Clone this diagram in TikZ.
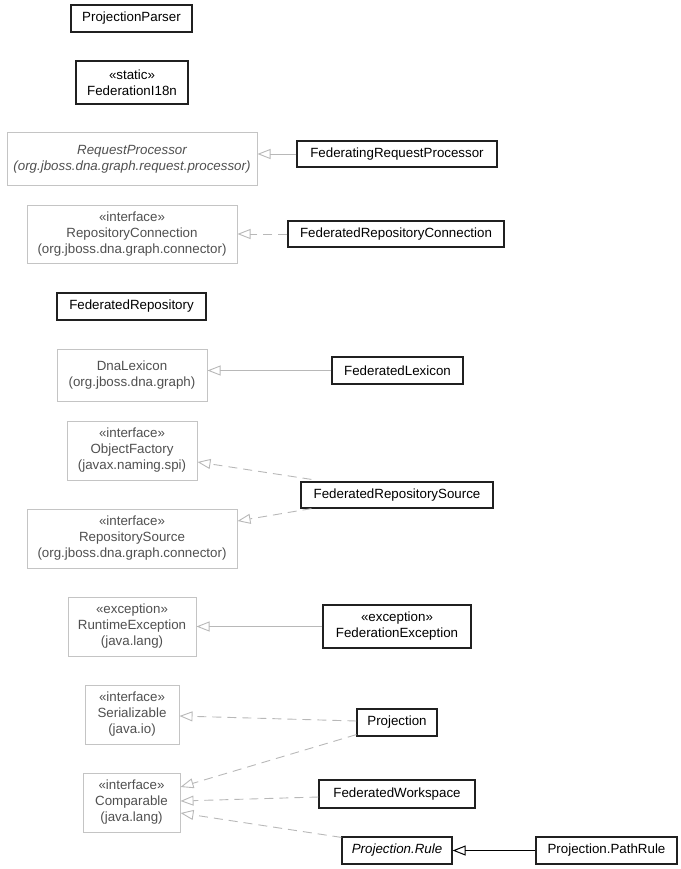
\documentclass[tikz,border=0pt]{standalone}
\usepackage{fontspec}
\setmainfont{Liberation Sans}
\usetikzlibrary{arrows.meta,calc}
\definecolor{gbord}{HTML}{C4C4C4}
\definecolor{gtext}{HTML}{505050}
\definecolor{gline}{HTML}{B8B8B8}
\definecolor{bbord}{HTML}{202020}
\tikzset{
  cls/.style={draw=bbord, line width=1.2pt, fill=white, inner sep=0pt, align=center, text=black,
    font=\fontsize{13.33}{16}\selectfont},
  ext/.style={draw=gbord, line width=1pt, fill=white, inner sep=0pt, align=center, text=gtext,
    font=\fontsize{13.33}{16}\selectfont},
  gen/.style={draw=gline, line width=0.9pt, -{Triangle[open, length=13pt, width=10pt]}},
  impl/.style={gen, dash pattern=on 9pt off 6pt},
  genb/.style={draw=black, line width=1pt, -{Triangle[open, length=13pt, width=10pt]}},
}
\begin{document}
\begin{tikzpicture}[x=1pt,y=-1pt]
\useasboundingbox (0,0) rectangle (680,869);
\node[cls, minimum width=121pt, minimum height=27pt] (pp) at (131.5,18.5) {ProjectionParser};
\node[cls, minimum width=112pt, minimum height=43pt] (i18n) at (132,82.5) {«static»\\FederationI18n};
\node[ext, minimum width=250pt, minimum height=52pt] (rp) at (132,159) {\itshape RequestProcessor\\\itshape (org.jboss.dna.graph.request.processor)};
\node[cls, minimum width=200pt, minimum height=26pt] (frp) at (397,154) {FederatingRequestProcessor};
\node[ext, minimum width=210pt, minimum height=58pt] (rc) at (132,234) {«interface»\\RepositoryConnection\\(org.jboss.dna.graph.connector)};
\node[cls, minimum width=216pt, minimum height=26pt] (frc) at (396,234) {FederatedRepositoryConnection};
\node[cls, minimum width=149pt, minimum height=27pt] (fr) at (131.5,306.5) {FederatedRepository};
\node[ext, minimum width=150pt, minimum height=52pt] (dl) at (132,375) {DnaLexicon\\(org.jboss.dna.graph)};
\node[cls, minimum width=131pt, minimum height=27pt] (fl) at (397.5,370.5) {FederatedLexicon};
\node[ext, minimum width=130pt, minimum height=59pt] (of) at (132,450.5) {«interface»\\ObjectFactory\\(javax.naming.spi)};
\node[ext, minimum width=210pt, minimum height=59pt] (rs) at (132,538.5) {«interface»\\RepositorySource\\(org.jboss.dna.graph.connector)};
\node[cls, minimum width=192pt, minimum height=26pt] (frs) at (397,495) {FederatedRepositorySource};
\node[ext, minimum width=128pt, minimum height=59pt] (re) at (132,626.5) {«exception»\\RuntimeException\\(java.lang)};
\node[cls, minimum width=148pt, minimum height=43pt] (fe) at (397,626.5) {«exception»\\FederationException};
\node[ext, minimum width=94pt, minimum height=59pt] (ser) at (132,714.5) {«interface»\\Serializable\\(java.io)};
\node[ext, minimum width=97pt, minimum height=59pt] (cmp) at (131.5,802.5) {«interface»\\Comparable\\(java.lang)};
\node[cls, minimum width=80pt, minimum height=27pt] (proj) at (397,722.5) {Projection};
\node[cls, minimum width=156pt, minimum height=28pt] (fw) at (397,794) {FederatedWorkspace};
\node[cls, minimum width=110pt, minimum height=27pt] (rule) at (397,850.5) {\itshape Projection.Rule};
\node[cls, minimum width=141pt, minimum height=27pt] (pr) at (606.5,850.5) {Projection.PathRule};

\draw[gen] (frp.west) -- (rp.east |- frp.west);
\draw[impl] (frc.west) -- (rc.east |- frc.west);
\draw[gen] (fl.west) -- (dl.east |- fl.west);
\draw[impl] ($(frs.north west)+(11,-2)$) -- ($(of.east)+(0,11.5)$);
\draw[impl] ($(frs.south west)+(11,0)$) -- ($(rs.east)+(0,-17.5)$);
\draw[gen] (fe.west) -- (re.east |- fe.west);
\draw[impl] ($(proj.west)+(0,-1.5)$) -- ($(ser.east)+(0,1.5)$);
\draw[impl] ($(proj.south west)+(0,-2)$) -- ($(cmp.east)+(0,-15.5)$);
\draw[impl] ($(fw.west)+(0,3)$) -- ($(cmp.east)+(0,-1.5)$);
\draw[impl] ($(rule.north west)+(0,1)$) -- ($(cmp.east)+(0,10.5)$);
\draw[genb] (pr.west) -- (rule.east);
\end{tikzpicture}
\end{document}
